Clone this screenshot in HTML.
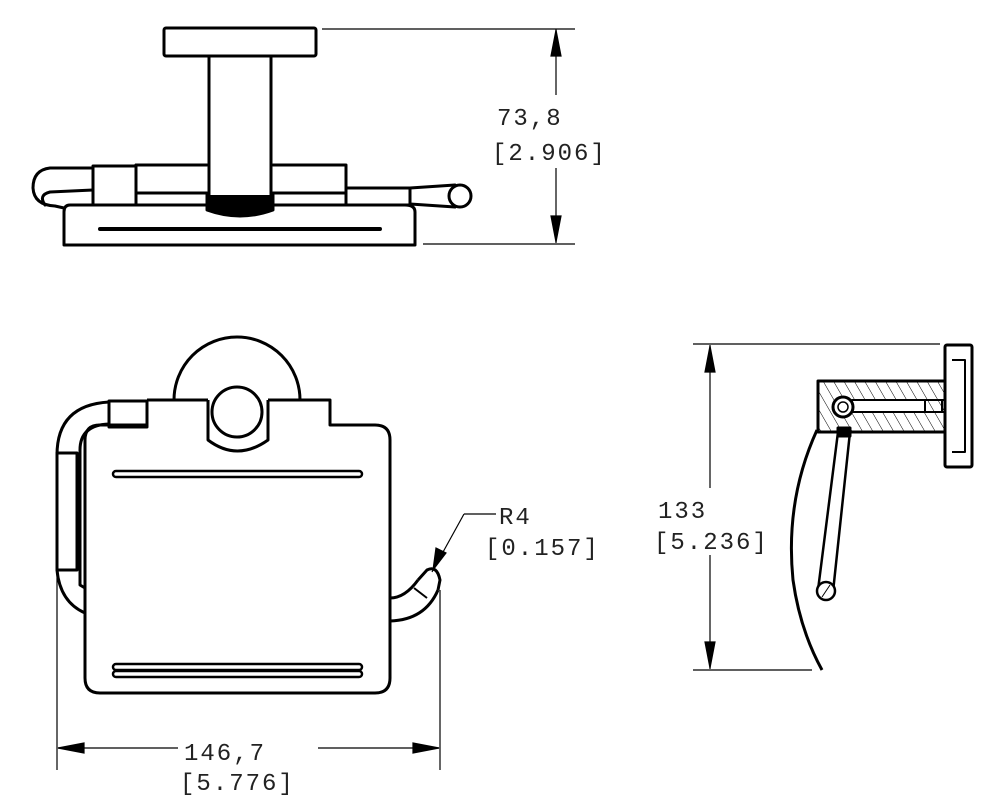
<!DOCTYPE html>
<html><head><style>
html,body{margin:0;padding:0;background:#fff;}
svg{display:block;}
text{font-family:"Liberation Mono","DejaVu Sans Mono",monospace;font-size:24px;fill:#222;letter-spacing:2px;}
</style></head><body>
<svg width="1000" height="807" viewBox="0 0 1000 807" xmlns="http://www.w3.org/2000/svg">
<defs>
<pattern id="h" width="9" height="9" patternUnits="userSpaceOnUse" patternTransform="rotate(-30)">
<line x1="0" y1="0" x2="0" y2="9" stroke="#000" stroke-width="1"/>
</pattern>
</defs>
<g fill="none" stroke="#000" stroke-width="3" stroke-linejoin="round" stroke-linecap="round">
<!-- TOP VIEW -->
<rect x="164" y="28" width="152" height="28" rx="2"/>
<line x1="209" y1="56" x2="209" y2="210"/>
<line x1="271" y1="56" x2="271" y2="210"/>
<path d="M207 195 L207 210 Q240 222 273 210 L273 195" fill="#000"/>
<path d="M136 165 H207 M273 165 H346 V193 M136 193 H207 M273 193 H346"/>
<line x1="136" y1="165" x2="136" y2="205"/>
<rect x="93" y="166" width="43" height="39"/>
<path d="M93 168 H50 Q33 170 33 188 Q34 205 55 206 L64 208"/>
<path d="M93 190 L50 192 Q38 195 45 205"/>
<path d="M346 193 V205 H410 V188 H346"/>
<path d="M410 188 L455 185 M410 204 L455 207"/>
<circle cx="460" cy="196" r="11"/>
<path d="M70 205 H405 Q415 205 415 212 V245 H64 V212 Q64 205 70 205Z"/>
<line x1="100" y1="229" x2="380" y2="229" stroke-width="4"/>
</g>
<g stroke="#000" stroke-width="1.2" fill="#000">
<line x1="322" y1="29" x2="575" y2="29"/>
<line x1="423" y1="244" x2="575" y2="244"/>
<line x1="556" y1="29" x2="556" y2="95"/>
<line x1="556" y1="168" x2="556" y2="243"/>
<path d="M556 30 L551 56 L561 56Z"/>
<path d="M556 242 L551 216 L561 216Z"/>
</g>
<text x="497" y="125">73,8</text>
<text x="492" y="160">[2.906]</text>

<!-- FRONT VIEW -->
<g fill="none" stroke="#000" stroke-width="3" stroke-linejoin="round">
<path d="M174 400 A63 63 0 0 1 300 400"/>
<path d="M147 400 H208 M268 400 H330 V425 H375 Q390 425 390 440 V678 Q390 693 375 693 H100 Q85 693 85 678 V440 Q85 425 100 425 H147 V400"/>
<path d="M208 400 V440 Q237 462 268 440 V400"/>
<circle cx="237" cy="412" r="25" fill="#fff"/>
<rect x="109" y="401" width="38" height="26"/>
<path d="M109 402 Q57 405 57 455 V570 Q60 602 85 613"/>
<path d="M109 424 Q80 425 80 450 V585 L85 588"/>
<rect x="57" y="453" width="20" height="117"/>
<path d="M390 598 Q405 598 418 580 M390 621 Q425 620 438 590"/>
<path d="M418 580 L427 570 Q437 565 440 580 L438 590"/>
<line x1="414" y1="588" x2="427" y2="598" stroke-width="2"/>
</g>
<g stroke="#000" fill="#fff" stroke-width="2.5">
<rect x="113" y="471" width="249" height="6" rx="3"/>
<rect x="113" y="664" width="249" height="6" rx="3"/>
<rect x="113" y="671" width="249" height="6" rx="3"/>
</g>
<g stroke="#000" stroke-width="1.2" fill="#000">
<line x1="57" y1="572" x2="57" y2="770"/>
<line x1="440" y1="590" x2="440" y2="770"/>
<line x1="58" y1="748" x2="178" y2="748"/>
<line x1="318" y1="748" x2="439" y2="748"/>
<path d="M58 748 L84 743 L84 753Z"/>
<path d="M439 748 L413 743 L413 753Z"/>
<line x1="432" y1="572" x2="464" y2="514"/>
<line x1="464" y1="514" x2="496" y2="514"/>
<path d="M433 570 L436 548 L446 553Z"/>
</g>
<text x="184" y="760">146,7</text>
<text x="180" y="790">[5.776]</text>
<text x="499" y="524">R4</text>
<text x="485" y="555">[0.157]</text>

<!-- SIDE VIEW -->
<g stroke="#000" stroke-width="1.2" fill="#000">
<line x1="693" y1="344" x2="940" y2="344"/>
<line x1="693" y1="670" x2="812" y2="670"/>
<line x1="710" y1="345" x2="710" y2="488"/>
<line x1="710" y1="555" x2="710" y2="669"/>
<path d="M710 346 L705 372 L715 372Z"/>
<path d="M710 668 L705 642 L715 642Z"/>
</g>
<text x="658" y="518">133</text>
<text x="654" y="549">[5.236]</text>
<g fill="none" stroke="#000" stroke-width="3" stroke-linejoin="round">
<rect x="818" y="381" width="127" height="51" fill="url(#h)"/>
<rect x="852" y="400" width="90" height="12" fill="#fff" stroke-width="2"/>
<rect x="925" y="400" width="20" height="12" fill="url(#h)" stroke-width="2"/>
<rect x="945" y="345" width="27" height="122" rx="2" fill="#fff"/>
<path d="M952 360 H965 V452 H952" stroke-width="2"/>
<circle cx="843" cy="407" r="10" fill="#fff"/>
<circle cx="843" cy="407" r="5" stroke-width="1.5"/>
<path d="M838 432 L818 590 M850 432 L833 592" stroke-width="2.5"/>
<rect x="838" y="428" width="12" height="8" fill="#000"/>
<circle cx="826" cy="591" r="9" fill="#fff" stroke-width="2.5"/>
<line x1="822" y1="597" x2="830" y2="585" stroke-width="1"/>
<path d="M817 430 Q785 500 793 580 Q800 630 822 670"/>
</g>
</svg>
</body></html>
